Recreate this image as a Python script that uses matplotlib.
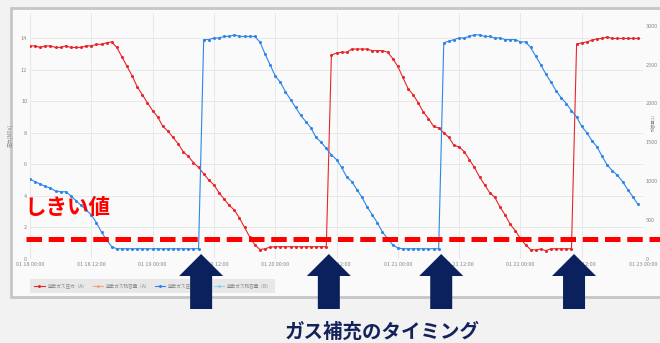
import matplotlib
matplotlib.use("Agg")
import matplotlib.pyplot as plt
import matplotlib.transforms as mtransforms
from matplotlib.lines import Line2D
from matplotlib.patches import Rectangle, Polygon
import numpy as np

plt.rcParams['font.family'] = ['Noto Sans CJK JP', 'DejaVu Sans']

## data: hourly readings from 01/18 00:00
hours = list(range(120))

press_a = [13.5, 13.5, 13.4, 13.5, 13.5, 13.4, 13.4, 13.5, 13.4, 13.4, 13.4, 13.5, 13.5, 13.6, 13.6, 13.7,
           13.75, 13.4, 12.8, 12.2, 11.6, 10.9, 10.4, 9.9, 9.4, 9.0, 8.4, 8.1, 7.7, 7.3,
           6.8, 6.5, 6.1, 5.8, 5.4, 5.0, 4.7, 4.2, 3.8, 3.4, 3.1, 2.6, 2.0, 1.4, 0.9, 0.6, 0.65, 0.75,
           0.78, 0.78, 0.78, 0.78, 0.78, 0.78, 0.78, 0.78, 0.78, 0.78, 0.78,
           12.9, 13.05, 13.1, 13.1, 13.3, 13.3, 13.3, 13.3, 13.2, 13.2, 13.2, 13.1,
           12.7, 12.2, 11.5, 10.8, 10.4, 9.9, 9.3, 8.9, 8.4, 8.3, 8.0, 7.7, 7.2, 7.1,
           6.8, 6.3, 5.8, 5.2, 4.7, 4.2, 3.9, 3.3, 2.8, 2.2, 1.8, 1.3, 0.9, 0.6,
           0.57, 0.63, 0.53, 0.65, 0.65, 0.65, 0.65, 0.65,
           13.6, 13.7, 13.75, 13.86, 13.95, 13.97, 14.07, 13.97, 13.97, 13.97, 13.97, 13.97, 13.97]

press_b = [5.06, 4.9, 4.75, 4.6, 4.5, 4.3, 4.26, 4.26, 4.0, 3.7, 3.4, 3.1, 2.8, 2.3, 1.7, 1.2, 0.78, 0.65,
           0.65, 0.65, 0.65, 0.65, 0.65, 0.65, 0.65, 0.65, 0.65, 0.65, 0.65, 0.65, 0.65, 0.65, 0.65, 0.65,
           13.9, 13.9, 14.0, 14.0, 14.1, 14.1, 14.2, 14.1, 14.1, 14.1, 14.1,
           13.75, 13.0, 12.3, 11.6, 11.2, 10.6, 10.1, 9.6, 9.1, 8.7, 8.3, 7.7, 7.4, 7.0,
           6.6, 6.3, 5.8, 5.2, 4.9, 4.4, 3.9, 3.3, 2.8, 2.3, 1.7, 1.3, 0.9, 0.7,
           0.65, 0.65, 0.65, 0.65, 0.65, 0.65, 0.65, 0.65,
           13.7, 13.8, 13.9, 14.0, 14.0, 14.1, 14.2, 14.2, 14.1, 14.1, 14.0, 14.0, 13.9, 13.9, 13.9, 13.75, 13.75,
           13.4, 12.85, 12.3, 11.7, 11.2, 10.65, 10.2, 9.85, 9.4, 9.0, 8.4, 8.0, 7.5, 7.1, 6.5, 5.95, 5.6,
           5.3, 4.9, 4.4, 3.95, 3.46]

tick_hours = list(range(0, 121, 12))
tick_labels = ["01 18 00:00", "01 18 12:00", "01 19 00:00", "01 19 12:00", "01 20 00:00", "01 20 12:00",
               "01 21 00:00", "01 21 12:00", "01 22 00:00", "01 22 12:00", "01 23 00:00"]
left_ticks = [0, 2, 4, 6, 8, 10, 12, 14]
right_ticks = [0, 500, 1000, 1500, 2000, 2500, 3000]
legend_names = ["窒素ガス圧力（A）", "窒素ガス残容量（A）", "窒素ガス圧力（B）", "窒素ガス残容量（B）"]
legend_colors = ["#e8262b", "#f4a77a", "#2f86e6", "#8fd3ef"]
threshold = 1.27

W, H = 660, 343
def fx(px):
    return px / W
def fy(py):
    return 1 - py / H

fig = plt.figure(figsize=(6.6, 3.43), dpi=100, facecolor='#f2f2f2')

## chart card
fig.add_artist(Rectangle((fx(11), fy(297)), (662 - 11) / W, (297 - 8) / H, transform=fig.transFigure,
                         facecolor='#fafafa', edgecolor='#c6c6c6', linewidth=2, zorder=0))

ax = fig.add_axes([fx(30), fy(259), (643 - 30) / W, (259 - 13) / H])
ax.set_facecolor('none')
ax.set_xlim(0, 120)
ax.set_ylim(0, 246 / 15.786)
for s in ax.spines.values():
    s.set_visible(False)
ax.set_xticks(tick_hours)
ax.set_xticklabels(tick_labels)
ax.set_yticks(left_ticks)
ax.grid(True, color='#e8e8e8', linewidth=0.7)
ax.set_axisbelow(True)
ax.tick_params(length=0, labelsize=4, colors='#8a8a8a', pad=2)
ax.set_ylabel("圧力[MPa]", fontsize=3.5, color='#8a8a8a', labelpad=6)

ax2 = ax.twinx()
ax2.set_ylim(0, 246 / 0.07777)
ax2.set_yticks(right_ticks)
for s in ax2.spines.values():
    s.set_visible(False)
ax2.tick_params(length=0, labelsize=4, colors='#8a8a8a', pad=2)
fig.text(fx(653), fy(122), "残容量[L]", fontsize=3, color='#8a8a8a', rotation=90,
         ha='center', va='center')

ax.plot(hours, press_a, color=legend_colors[0], lw=0.8, marker='o', ms=1.2, zorder=3)
ax.plot(hours, press_b, color=legend_colors[2], lw=0.8, marker='o', ms=1.2, zorder=3)

handles = [Line2D([0], [0], color=c, lw=0.8, marker='o', ms=1.2) for c in legend_colors]
leg = fig.legend(handles, legend_names, loc='lower left', bbox_to_anchor=(fx(28), fy(295)), ncol=4,
                 fontsize=3.3, frameon=True, fancybox=False, handlelength=2.2, columnspacing=1.2,
                 borderpad=0.9, handletextpad=0.6)
leg.get_frame().set_facecolor('#e4e4e4')
leg.get_frame().set_edgecolor('none')
for t in leg.get_texts():
    t.set_color('#8a8a8a')

## threshold annotation
blend = mtransforms.blended_transform_factory(fig.transFigure, ax.transData)
fig.add_artist(Line2D([fx(26), 1.0], [threshold, threshold], transform=blend, color='#ff0000',
                      lw=3.6, dashes=(3.1, 1.35), solid_capstyle='butt', dash_capstyle='butt', zorder=10))
fig.text(fx(24), fy(208), "しきい値", color='#ff0000', fontsize=15.5, fontweight='bold',
         ha='left', va='center', zorder=11)

## refill arrows at the jumps
jumps = []
for series in (press_a, press_b):
    d = np.diff(series)
    jumps += [i + 0.5 for i in np.where(d > 5)[0]]
px_per_h = (643 - 30) / 120
arrow_blend = mtransforms.blended_transform_factory(ax.transData, fig.transFigure)
shape = [(0, 254), (22, 276), (11, 276), (11, 309), (-11, 309), (-11, 276), (-22, 276)]
for h in jumps:
    pts = [(h + dx / px_per_h, fy(py)) for dx, py in shape]
    fig.add_artist(Polygon(pts, closed=True, transform=arrow_blend, facecolor='#0b215e',
                           edgecolor='none', zorder=12, clip_on=False))

fig.text(fx(382), fy(332), "ガス補充のタイミング", color='#13225a', fontsize=14, fontweight='bold',
         ha='center', va='center')

fig.savefig("out.png", dpi=100, facecolor=fig.get_facecolor())
